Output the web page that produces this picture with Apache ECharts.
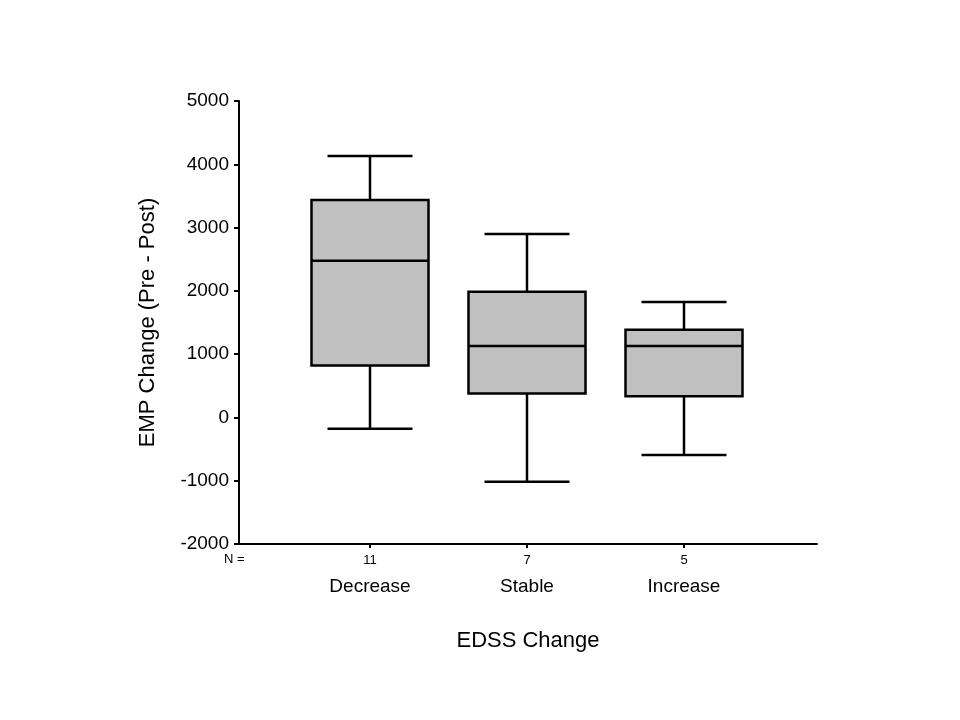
<!DOCTYPE html>
<html>
<head>
<meta charset="utf-8">
<script src="https://cdn.jsdelivr.net/npm/echarts@6/dist/echarts.min.js"></script>
<style>html,body{margin:0;padding:0;background:#fff;}#c{width:960px;height:720px;}</style>
</head>
<body>
<div id="c"></div>
<script>
const categories = ['Decrease', 'Stable', 'Increase'];
const counts = [11, 7, 5];
const whiskerLow = [-180, -1015, -595];
const q1 = [820, 380, 335];
const median = [2475, 1130, 1130];
const q3 = [3435, 1985, 1385];
const whiskerHigh = [4130, 2900, 1825];
const yTicks = [-2000, -1000, 0, 1000, 2000, 3000, 4000, 5000];

const data = categories.map((c, i) => [i, whiskerLow[i], q1[i], median[i], q3[i], whiskerHigh[i]]);
const font = '"Liberation Sans", Arial, sans-serif';

const chart = echarts.init(document.getElementById('c'), null, {renderer: 'canvas'});
chart.setOption({
  backgroundColor: '#fff',
  animation: false,
  grid: [
    {left: 239, right: 143, top: 101, bottom: 176},
    {left: 291.5, width: 471, top: 101, bottom: 176}
  ],
  xAxis: [
    {
      gridIndex: 0, type: 'value', min: 0, max: 1,
      axisLine: {show: true, onZero: false, lineStyle: {color: '#000', width: 2}},
      axisTick: {show: false}, axisLabel: {show: false}, splitLine: {show: false},
      name: 'EDSS Change', nameLocation: 'middle', nameGap: 86,
      nameTextStyle: {fontFamily: font, fontSize: 22, color: '#000'}
    },
    {
      gridIndex: 1, type: 'category', data: categories, boundaryGap: true,
      axisLine: {show: true, onZero: false, lineStyle: {color: '#000', width: 2, opacity: 0}},
      axisTick: {show: true, alignWithLabel: true, length: 4, lineStyle: {color: '#000', width: 2, opacity: 1}},
      splitLine: {show: false},
      axisLabel: {
        margin: 7, interval: 0,
        formatter: (v, i) => '{n|' + counts[i] + '}\n{c|' + v + '}',
        rich: {
          n: {fontFamily: font, fontSize: 13, lineHeight: 18, color: '#000'},
          c: {fontFamily: font, fontSize: 19, lineHeight: 36, color: '#000'}
        }
      }
    }
  ],
  yAxis: [
    {
      gridIndex: 0, type: 'value', min: yTicks[0], max: yTicks[yTicks.length - 1], interval: 1000,
      axisLine: {show: true, onZero: false, lineStyle: {color: '#000', width: 2}},
      axisTick: {show: true, inside: false, length: 5, lineStyle: {color: '#000', width: 2}},
      axisLabel: {margin: 10, fontFamily: font, fontSize: 19, color: '#000', formatter: v => String(v)},
      splitLine: {show: false},
      name: 'EMP Change (Pre - Post)', nameLocation: 'middle', nameGap: 80,
      nameTextStyle: {fontFamily: font, fontSize: 22, color: '#000'}
    },
    {
      gridIndex: 1, type: 'value', min: yTicks[0], max: yTicks[yTicks.length - 1],
      show: false
    }
  ],
  graphic: [
    {type: 'text', left: 224, top: 553, style: {text: 'N =', font: '13px ' + font, fill: '#000'}}
  ],
  series: [{
    type: 'custom',
    xAxisIndex: 1, yAxisIndex: 1,
    encode: {x: 0, y: [1, 2, 3, 4, 5]},
    data: data,
    renderItem: function (params, api) {
      const idx = api.value(0);
      const x = api.coord([idx, 0])[0];
      const yLow = api.coord([idx, api.value(1)])[1];
      const yQ1 = api.coord([idx, api.value(2)])[1];
      const yMed = api.coord([idx, api.value(3)])[1];
      const yQ3 = api.coord([idx, api.value(4)])[1];
      const yHigh = api.coord([idx, api.value(5)])[1];
      const bw = 117, cw = 85;
      const st = {stroke: '#000', lineWidth: 2.5};
      return {
        type: 'group',
        children: [
          {type: 'line', shape: {x1: x, y1: yHigh, x2: x, y2: yQ3}, style: st},
          {type: 'line', shape: {x1: x, y1: yQ1, x2: x, y2: yLow}, style: st},
          {type: 'line', shape: {x1: x - cw / 2, y1: yHigh, x2: x + cw / 2, y2: yHigh}, style: st},
          {type: 'line', shape: {x1: x - cw / 2, y1: yLow, x2: x + cw / 2, y2: yLow}, style: st},
          {type: 'rect', shape: {x: x - bw / 2, y: yQ3, width: bw, height: yQ1 - yQ3},
            style: {fill: '#c0c0c0', stroke: '#000', lineWidth: 2.5}},
          {type: 'line', shape: {x1: x - bw / 2, y1: yMed, x2: x + bw / 2, y2: yMed}, style: st}
        ]
      };
    }
  }]
});
</script>
</body>
</html>
